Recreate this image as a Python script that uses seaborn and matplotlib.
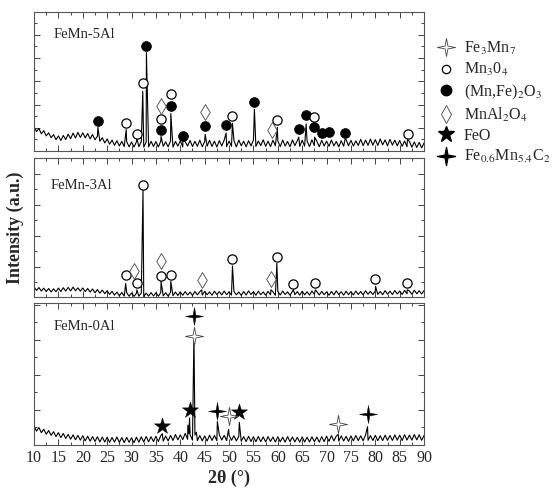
import numpy as np
import pandas as pd
import matplotlib.pyplot as plt
from matplotlib.path import Path
from matplotlib.lines import Line2D
from matplotlib.ticker import MultipleLocator
import seaborn as sns

sns.set_style('ticks')
plt.rcParams['font.family'] = ['Liberation Serif', 'DejaVu Serif']
plt.rcParams['mathtext.fontset'] = 'stix'

# scan grid, 0.5 deg step
two_theta = np.arange(10, 90.01, 0.5)

# background of each pattern (% of panel height)
base_5al = [17.5, 14.0, 16.2, 12.4, 14.6, 10.9, 13.1, 9.6, 11.8, 8.2,
            10.9, 7.6, 11.2, 8.3, 12.1, 8.9, 12.9, 9.4, 13.4, 9.8,
            13.1, 9.5, 12.6, 8.8, 11.9, 8.1, 10.7, 7.0, 9.6, 5.8,
            8.7, 4.9, 7.9, 4.1, 7.4, 3.6, 6.9, 3.2, 6.8, 3.0,
            6.5, 2.9, 6.6, 3.1, 6.9, 2.8, 6.4, 3.0, 7.0, 3.3,
            6.8, 2.9, 7.2, 3.4, 6.6, 3.1, 7.3, 2.8, 6.9, 3.5,
            7.4, 3.0, 6.7, 3.6, 7.6, 3.2, 7.0, 3.4, 7.8, 3.1,
            6.9, 3.5, 7.7, 3.3, 7.1, 2.9, 7.5, 3.6, 7.9, 3.2,
            7.2, 3.4, 7.6, 3.0, 7.9, 3.8, 7.0, 3.1, 7.4, 3.7,
            7.8, 3.3, 7.2, 3.9, 8.1, 3.4, 7.1, 3.2, 7.8, 3.8,
            7.3, 3.2, 7.9, 3.6, 6.9, 3.0, 8.0, 3.9, 7.5, 3.3,
            7.8, 3.5, 7.2, 3.2, 8.1, 3.9, 7.0, 3.1, 7.7, 3.6,
            7.1, 3.4, 7.9, 3.7, 6.8, 3.0, 7.4, 3.5, 8.2, 3.8,
            7.7, 3.6, 7.3, 4.0, 8.4, 3.9, 7.9, 4.1, 8.6, 4.2,
            8.2, 4.0, 8.7, 4.4, 8.0, 3.8, 8.4, 4.3, 7.8, 3.7,
            7.6, 3.4, 7.2, 3.1, 6.8, 2.7, 6.5, 2.5, 6.2, 2.3,
            5.8]
base_3al = [7.6, 5.0, 7.1, 4.6, 6.7, 4.2, 6.4, 4.0, 6.2, 4.1,
            6.7, 4.3, 7.0, 4.6, 7.2, 4.7, 7.4, 4.8, 6.9, 4.5,
            6.8, 4.2, 6.4, 3.9, 6.1, 3.4, 5.7, 3.1, 5.3, 2.7,
            4.9, 2.2, 4.4, 1.7, 3.9, 1.2, 3.6, 1.0, 3.4, 0.9,
            3.2, 0.8, 3.0, 0.9, 3.3, 0.7, 3.1, 1.0, 3.5, 1.1,
            3.3, 0.9, 3.6, 1.2, 3.4, 1.0, 3.7, 1.3, 3.9, 1.4,
            4.0, 1.6, 4.2, 1.8, 3.8, 1.5, 4.3, 1.9, 4.1, 1.7,
            4.4, 2.0, 4.0, 1.6, 4.5, 2.1, 4.2, 1.8, 4.6, 2.0,
            4.1, 1.7, 4.4, 1.9, 3.9, 1.5, 4.3, 1.8, 4.7, 2.1,
            4.2, 1.6, 4.5, 2.0, 4.0, 1.7, 4.4, 1.9, 4.1, 1.6,
            4.3, 1.8, 4.6, 2.1, 4.0, 1.6, 4.4, 2.0, 4.2, 1.7,
            4.5, 1.9, 4.1, 1.7, 4.6, 2.2, 4.2, 1.8, 4.4, 2.0,
            4.0, 1.6, 4.3, 1.9, 4.7, 2.1, 4.1, 1.7, 4.5, 2.0,
            4.2, 1.8, 4.6, 2.2, 4.3, 1.9, 4.8, 2.3, 4.4, 2.1,
            4.7, 2.2, 4.3, 2.0, 4.9, 2.4, 4.5, 2.1, 5.0, 2.5,
            4.6, 2.2, 5.1, 2.6, 4.7, 2.3, 5.2, 2.7, 4.8, 2.5,
            5.0]
base_0al = [13.4, 9.8, 12.3, 8.7, 11.1, 7.6, 10.2, 6.8, 9.4, 5.9,
            8.7, 5.2, 8.1, 4.6, 7.5, 4.1, 7.1, 3.7, 6.8, 3.4,
            6.5, 2.9, 6.2, 2.7, 5.9, 2.5, 5.8, 2.2, 5.6, 2.1,
            5.5, 1.9, 5.3, 2.0, 5.6, 1.8, 5.2, 1.7, 5.4, 1.9,
            5.1, 1.6, 5.5, 2.0, 5.7, 2.1, 6.0, 2.3, 5.8, 2.4,
            6.1, 2.5, 6.6, 2.7, 6.3, 2.9, 6.8, 3.2, 7.4, 3.6,
            7.1, 3.8, 8.2, 4.0, 7.3, 3.4, 7.0, 3.1, 6.6, 2.9,
            6.4, 2.8, 6.9, 3.2, 6.7, 3.0, 7.2, 3.5, 6.8, 3.1,
            7.0, 3.3, 6.5, 2.9, 6.2, 2.6, 5.9, 2.4, 6.1, 2.5,
            5.8, 2.3, 6.0, 2.4, 5.7, 2.2, 5.9, 2.5, 5.6, 2.1,
            5.8, 2.3, 5.5, 2.0, 5.9, 2.4, 5.6, 2.2, 5.4, 2.0,
            5.7, 2.1, 5.5, 2.2, 5.8, 2.3, 5.6, 2.0, 5.9, 2.4,
            6.2, 2.6, 6.6, 2.9, 6.3, 2.7, 6.5, 2.8, 6.1, 2.6,
            6.4, 2.9, 6.7, 3.1, 6.5, 3.0, 7.0, 3.3, 6.6, 3.2,
            6.8, 3.0, 6.5, 3.1, 6.9, 3.3, 6.7, 3.2, 7.1, 3.4,
            6.9, 3.2, 7.3, 3.5, 7.0, 3.4, 7.4, 3.6, 7.2, 3.3,
            6.8]

# reflections: position (deg) and peak top (% of panel height)
peak_5al_x = [23.1, 28.9, 31.1, 32.3, 33.05, 36.05, 38.05, 40.55, 45.1, 49.4,
              50.7, 55.2, 59.9, 64.3, 65.8, 67.55, 73.8, 86.6]
peak_5al_y = [17.0, 15.5, 9.0, 43.0, 71.0, 10.5, 27.0, 9.0, 12.0, 13.0,
              20.0, 30.0, 17.0, 10.0, 19.5, 10.0, 8.5, 8.5]
peak_3al_x = [28.8, 31.1, 32.35, 36.05, 38.05, 44.4, 50.7, 58.6, 59.8, 63.2,
              67.7, 80.05, 86.55]
peak_3al_y = [10.0, 5.5, 77.0, 11.4, 11.5, 5.5, 22.6, 5.5, 24.5, 5.5,
              5.5, 8.0, 5.5]
peak_0al_x = [36.3, 41.55, 41.75, 41.9, 42.8, 43.3, 47.6, 49.9, 52.1, 72.4, 78.4]
peak_0al_y = [8.0, 14.0, 8.0, 19.0, 78.0, 9.0, 16.5, 11.0, 16.0, 7.5, 13.0]

# phase markers (x, y in % of panel height)
mnfe_5al_x = [23.1, 33.0, 36.05, 38.0, 40.5, 45.1, 49.4, 55.2, 64.3, 65.8, 67.5, 69.0, 70.6, 73.8]
mnfe_5al_y = [21.6, 76.0, 15.0, 32.7, 11.0, 17.7, 18.9, 35.0, 15.7, 26.0, 17.0, 13.3, 13.8, 13.3]
mn3o4_5al_x = [28.9, 31.1, 32.3, 36.05, 38.0, 50.7, 59.9, 67.5, 86.6]
mn3o4_5al_y = [20.0, 12.3, 48.7, 23.0, 41.0, 25.0, 22.0, 24.5, 12.6]
mnal_5al_x = [36.05, 45.1, 58.75]
mnal_5al_y = [32.7, 28.0, 15.0]

mn3o4_3al_x = [28.8, 31.1, 32.35, 36.0, 38.0, 50.7, 59.8, 63.2, 67.7, 80.0, 86.5]
mn3o4_3al_y = [15.9, 10.4, 80.6, 15.4, 16.0, 27.4, 29.3, 9.9, 10.6, 13.3, 10.6]
mnal_3al_x = [30.5, 36.0, 44.4, 58.5]
mnal_3al_y = [19.2, 26.0, 12.5, 13.3]

feo_0al_x = [36.3, 41.9, 52.1]
feo_0al_y = [13.4, 24.7, 23.5]
carb_0al_x = [42.8, 47.6, 78.4]
carb_0al_y = [91.0, 24.2, 21.9]
fe3mn7_0al_x = [42.8, 49.9, 72.4]
fe3mn7_0al_y = [77.0, 20.7, 14.8]

sample_names = ['FeMn-5Al', 'FeMn-3Al', 'FeMn-0Al']
legend_labels = ['Fe$_3$Mn$_7$', 'Mn$_3$0$_4$', '(Mn,Fe)$_2$O$_3$', 'MnAl$_2$O$_4$',
                 'FeO', 'Fe$_{0.6}$Mn$_{5.4}$C$_2$']

# thin four-pointed star
ang = np.deg2rad(np.arange(0, 360, 45) + 90)
rad = np.tile([1.0, 0.22], 4)
verts = np.column_stack([rad * np.cos(ang), rad * np.sin(ang)])
sparkle = Path(np.vstack([verts, verts[:1]]), closed=True)


def pattern(base, px, py):
    df = pd.concat([pd.DataFrame({'two_theta': two_theta, 'intensity': base}),
                    pd.DataFrame({'two_theta': px, 'intensity': py})])
    return df.sort_values('two_theta')


def marks(ax, x, y, kind):
    if kind == 'filled':
        sns.scatterplot(x=x, y=y, ax=ax, marker='o', s=50, color='black',
                        edgecolor='black', linewidth=0.5, zorder=3)
    elif kind == 'open':
        sns.scatterplot(x=x, y=y, ax=ax, marker='o', s=44, color='white',
                        edgecolor='black', linewidth=0.9, zorder=3)
    elif kind == 'diamond':
        sns.scatterplot(x=x, y=y, ax=ax, marker='d', s=65, color='white',
                        edgecolor='#444444', linewidth=0.6, zorder=3)
    elif kind == 'feo':
        sns.scatterplot(x=x, y=y, ax=ax, marker='*', s=150, color='black',
                        edgecolor='black', linewidth=0.3, zorder=3)
    elif kind == 'carb':
        sns.scatterplot(x=x, y=y, ax=ax, marker=sparkle, s=170, color='black',
                        edgecolor='black', linewidth=0.3, zorder=3)
    elif kind == 'fe3mn7':
        sns.scatterplot(x=x, y=y, ax=ax, marker=sparkle, s=170, color='white',
                        edgecolor='#444444', linewidth=0.6, zorder=3)


fig = plt.figure(figsize=(5.58, 4.93), dpi=100)
boxes = [[0.061, 0.6937, 0.699, 0.2814],
         [0.061, 0.3966, 0.699, 0.2829],
         [0.061, 0.0974, 0.699, 0.2874]]
axes = [fig.add_axes(b) for b in boxes]
data = [pattern(base_5al, peak_5al_x, peak_5al_y),
        pattern(base_3al, peak_3al_x, peak_3al_y),
        pattern(base_0al, peak_0al_x, peak_0al_y)]
ystep = [16.75, 22.2, 24.7]
label_pos = [(0.051, 0.84), (0.043, 0.806), (0.051, 0.835)]

for i, ax in enumerate(axes):
    sns.lineplot(data=data[i], x='two_theta', y='intensity', ax=ax, color='black',
                 lw=0.8, estimator=None, sort=True)
    ax.set_xlim(10, 90)
    ax.set_ylim(0, 100)
    ax.xaxis.set_major_locator(MultipleLocator(5))
    ax.xaxis.set_minor_locator(MultipleLocator(2.5))
    ax.yaxis.set_major_locator(MultipleLocator(ystep[i]))
    ax.yaxis.set_minor_locator(MultipleLocator(ystep[i] / 2))
    ax.tick_params(which='both', direction='in', top=True, right=True,
                   labelleft=False, labelbottom=(i == 2), labelsize=11.5,
                   color='#444444', width=0.7)
    ax.tick_params(which='major', length=4)
    ax.tick_params(which='minor', length=2.5)
    for s in ax.spines.values():
        s.set_color('#555555')
        s.set_linewidth(0.8)
    ax.set_xlabel('')
    ax.set_ylabel('')
    ax.text(label_pos[i][0], label_pos[i][1], sample_names[i], transform=ax.transAxes,
            fontsize=10.5, va='center', ha='left')

marks(axes[0], mnfe_5al_x, mnfe_5al_y, 'filled')
marks(axes[0], mn3o4_5al_x, mn3o4_5al_y, 'open')
marks(axes[0], mnal_5al_x, mnal_5al_y, 'diamond')
marks(axes[1], mn3o4_3al_x, mn3o4_3al_y, 'open')
marks(axes[1], mnal_3al_x, mnal_3al_y, 'diamond')
marks(axes[2], feo_0al_x, feo_0al_y, 'feo')
marks(axes[2], carb_0al_x, carb_0al_y, 'carb')
marks(axes[2], fe3mn7_0al_x, fe3mn7_0al_y, 'fe3mn7')

fig.text(0.027, 0.537, 'Intensity (a.u.)', rotation=90, ha='center', va='center',
         fontsize=13, fontweight='bold')
fig.text(0.41, 0.013, '2θ (°)', ha='center', va='bottom', fontsize=13, fontweight='bold')

handles = [
    Line2D([], [], ls='none', marker=sparkle, ms=13, mfc='white', mec='#444444', mew=0.6),
    Line2D([], [], ls='none', marker='o', ms=6, mfc='white', mec='black', mew=0.9),
    Line2D([], [], ls='none', marker='o', ms=7.5, mfc='black', mec='black'),
    Line2D([], [], ls='none', marker='d', ms=9, mfc='white', mec='#444444', mew=0.6),
    Line2D([], [], ls='none', marker='*', ms=12, mfc='black', mec='black'),
    Line2D([], [], ls='none', marker=sparkle, ms=13, mfc='black', mec='black'),
]
fig.legend(handles, legend_labels, loc='upper left', bbox_to_anchor=(0.774, 0.932),
           frameon=False, fontsize=11.5, handlelength=1.0, handletextpad=0.6,
           labelspacing=0.26, borderaxespad=0)

fig.savefig('out.png', dpi=100)
